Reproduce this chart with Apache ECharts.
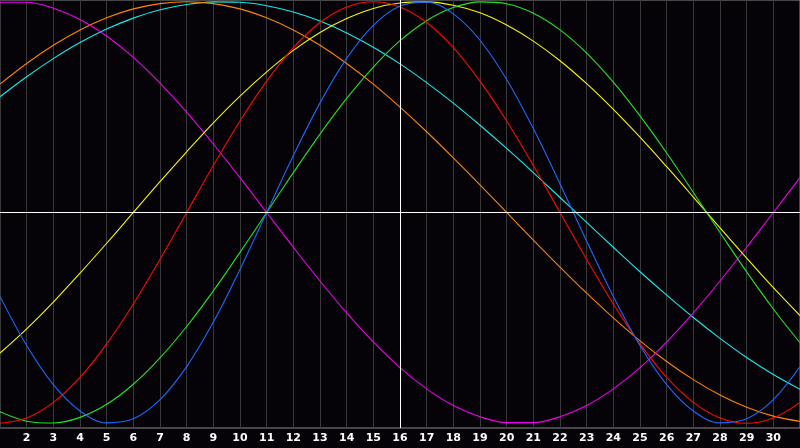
<!DOCTYPE html>
<html>
<head>
<meta charset="utf-8">
<script src="https://cdn.jsdelivr.net/npm/echarts@6/dist/echarts.min.js"></script>
<style>
html,body{margin:0;padding:0;background:#050308;}
#chart{width:800px;height:448px;}
</style>
</head>
<body>
<div id="chart"></div>
<script>
// Days of the month (x positions)
var days = [];
for (var i = 1; i <= 31; i++) days.push(i);

// Values, one per day (day 1 .. day 31)
var blueVals    = [-0.398,-0.631,-0.817,-0.942,-0.998,-0.979,-0.888,-0.731,-0.520,-0.270,0,0.270,0.520,0.731,0.888,0.979,0.998,0.942,0.817,0.631,0.398,0.136,-0.136,-0.398,-0.631,-0.817,-0.942,-0.998,-0.979,-0.888,-0.731];
var redVals     = [-1,-0.975,-0.901,-0.782,-0.623,-0.434,-0.223,0,0.223,0.434,0.623,0.782,0.901,0.975,1,0.975,0.901,0.782,0.623,0.434,0.223,0,-0.223,-0.434,-0.623,-0.782,-0.901,-0.975,-1,-0.975,-0.901];
var greenVals   = [-0.945,-0.990,-0.999,-0.972,-0.910,-0.815,-0.690,-0.541,-0.372,-0.189,0,0.189,0.372,0.541,0.690,0.815,0.910,0.972,0.999,0.990,0.945,0.866,0.756,0.618,0.458,0.282,0.095,-0.095,-0.282,-0.458,-0.618];
var yellowVals  = [-0.667,-0.552,-0.425,-0.288,-0.146,0,0.146,0.288,0.425,0.552,0.667,0.769,0.854,0.920,0.968,0.994,0.999,0.983,0.947,0.889,0.813,0.720,0.611,0.489,0.357,0.217,0.073,-0.073,-0.217,-0.357,-0.489];
var orangeVals  = [0.609,0.707,0.793,0.866,0.924,0.966,0.991,1,0.991,0.966,0.924,0.866,0.793,0.707,0.609,0.5,0.383,0.259,0.131,0,-0.131,-0.259,-0.383,-0.5,-0.609,-0.707,-0.793,-0.866,-0.924,-0.966,-0.991];
var cyanVals    = [0.549,0.644,0.730,0.806,0.870,0.922,0.962,0.987,0.999,0.997,0.981,0.951,0.908,0.852,0.784,0.705,0.616,0.519,0.414,0.304,0.189,0.071,-0.047,-0.165,-0.281,-0.392,-0.498,-0.597,-0.688,-0.769,-0.839];
var magentaVals = [0.997,0.997,0.969,0.916,0.837,0.736,0.614,0.476,0.325,0.165,0,-0.165,-0.325,-0.476,-0.614,-0.736,-0.837,-0.916,-0.969,-0.997,-0.997,-0.969,-0.916,-0.837,-0.736,-0.614,-0.476,-0.325,-0.165,0,0.165];

var seriesDefs = [
  {name:'cyan',    color:'#14ecec', vals:cyanVals},
  {name:'orange',  color:'#ff8400', vals:orangeVals},
  {name:'magenta', color:'#f000f0', vals:magentaVals},
  {name:'yellow',  color:'#f8f800', vals:yellowVals},
  {name:'green',   color:'#22e622', vals:greenVals},
  {name:'red',     color:'#ff0808', vals:redVals},
  {name:'blue',    color:'#1a6aff', vals:blueVals}
];

var todayDay = 16;

function pairs(vals){
  return vals.map(function(v, i){ return [days[i], v]; });
}

var series = [{
  type:'line', name:'ref', data:[], silent:true, z:1,
  markLine:{
    silent:true, symbol:'none', label:{show:false},
    lineStyle:{color:'#ffffff', width:1, type:'solid'},
    data:[{xAxis:todayDay},{yAxis:0}]
  }
}];
seriesDefs.forEach(function(s){
  series.push({
    type:'line', name:s.name, data:pairs(s.vals), smooth:0.35,
    showSymbol:false, symbol:'none', silent:true, z:2,
    lineStyle:{color:s.color, width:1.1}
  });
});

var chart = echarts.init(document.getElementById('chart'));
chart.setOption({
  backgroundColor:'#050308',
  animation:false,
  grid:{left:0, right:0, top:0, bottom:20, show:true, borderColor:'#8a8a8a', borderWidth:1, backgroundColor:'transparent'},
  xAxis:{
    type:'value', min:1, max:31, interval:1,
    axisLine:{show:true, lineStyle:{color:'#a8a8a8', width:1}},
    axisTick:{show:false},
    splitLine:{show:true, lineStyle:{color:'#393939', width:1}},
    axisLabel:{
      show:true, color:'#ffffff', fontFamily:'DejaVu Sans', fontWeight:'bold', fontSize:11,
      margin:5, showMinLabel:false, showMaxLabel:false,
      formatter:function(v){ return (v <= 1 || v >= 31) ? '' : String(v); }
    }
  },
  yAxis:{
    type:'value', min:-1.0224, max:1.008,
    axisLine:{show:false}, axisTick:{show:false}, axisLabel:{show:false}, splitLine:{show:false}
  },
  series:series
});
</script>
</body>
</html>
